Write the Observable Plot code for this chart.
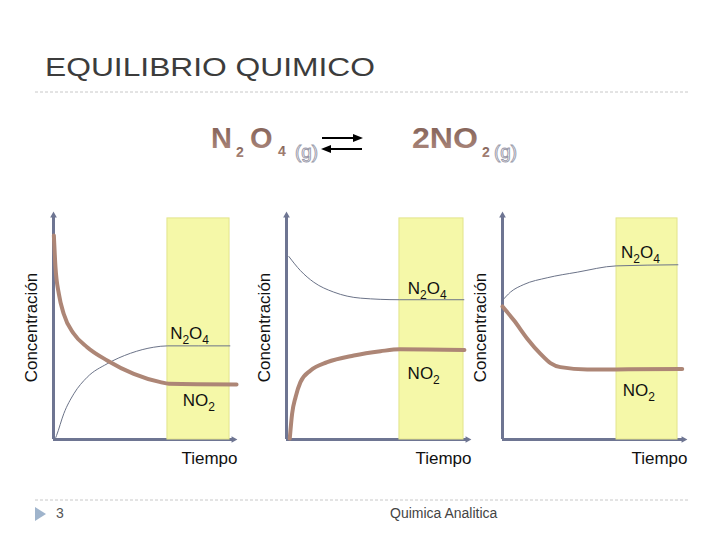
<!DOCTYPE html>
<html>
<head>
<meta charset="utf-8">
<script src="https://cdn.jsdelivr.net/npm/d3@7"></script>
<script src="https://cdn.jsdelivr.net/npm/@observablehq/plot@0.6"></script>
<style>
  html, body { margin: 0; padding: 0; background: #fff; }
  #page { position: relative; width: 720px; height: 540px; overflow: hidden; font-family: "Liberation Sans", Arial, sans-serif; }
  #page > svg, #page > .panel { position: absolute; }
  .panel svg { max-width: none !important; overflow: visible; }
</style>
</head>
<body>
<div id="page"></div>
<script>
// ---------- data ----------
const title = "EQUILIBRIO QUIMICO";
const footerLeft = "3";
const footerCenter = "Quimica Analitica";
const xLabel = "Tiempo";
const yLabel = "Concentración";

// Panel 1
const p1ThickX = [0.02, 0.11, 0.30, 0.57, 1.13, 1.87, 2.98, 4.46, 5.94, 6.41, 10.17];
const p1ThickY = [9.11, 7.69, 6.49, 5.60, 4.72, 4.12, 3.53, 2.93, 2.56, 2.49, 2.46];
const p1ThinX  = [0.08, 0.17, 0.57, 1.13, 1.87, 2.98, 4.28, 5.57, 6.35, 9.80];
const p1ThinY  = [0.00, 0.18, 1.15, 2.04, 2.78, 3.38, 3.85, 4.12, 4.18, 4.18];
const p1Band   = [6.33, 9.78];
const p1LabelText = ["N2O4", "NO2"];
const p1LabelX = [7.56, 8.07];
const p1LabelY = [4.72, 1.74];

// Panel 2
const p2ThickX = [0.18, 0.31, 0.50, 0.77, 1.33, 2.25, 3.72, 5.19, 6.26, 9.83];
const p2ThickY = [0.04, 1.15, 1.89, 2.56, 3.08, 3.45, 3.75, 3.94, 4.03, 4.00];
const p2ThinX  = [0.13, 0.77, 1.51, 2.61, 4.09, 6.26, 9.80];
const p2ThinY  = [8.17, 7.54, 7.02, 6.58, 6.31, 6.24, 6.24];
const p2Band   = [6.24, 9.78];
const p2LabelText = ["N2O4", "NO2"];
const p2LabelX = [7.77, 7.58];
const p2LabelY = [6.73, 2.93];

// Panel 3
const p3ThickX = [0.00, 0.64, 1.38, 2.10, 2.65, 3.20, 4.68, 6.28, 9.93];
const p3ThickY = [5.94, 5.31, 4.49, 3.82, 3.41, 3.23, 3.13, 3.13, 3.15];
const p3ThinX  = [0.00, 0.44, 1.18, 2.47, 4.13, 6.28, 9.69];
const p3ThinY  = [6.21, 6.58, 6.92, 7.22, 7.47, 7.75, 7.80];
const p3Band   = [6.30, 9.67];
const p3LabelText = ["N2O4", "NO2"];
const p3LabelX = [7.62, 7.53];
const p3LabelY = [8.36, 2.19];

const bandTop = 9.87;

// ---------- styles ----------
const AXIS = "#6e7592";
const THICK = "#ad8676";
const THIN = "#6b7388";
const BAND_FILL = "#f5f8a8";
const BAND_STROKE = "#e2e48c";
const FONT = "'Liberation Sans', Arial, sans-serif";

const page = d3.select("#page");

// ---------- decorations: title, equation, footer ----------
const deco = page.append("svg").attr("width", 720).attr("height", 540).style("left", "0px").style("top", "0px");
const defs = deco.append("defs");
const grad = defs.append("linearGradient").attr("id", "brown").attr("x1", 0).attr("y1", 0).attr("x2", 0).attr("y2", 1);
grad.append("stop").attr("offset", "0%").attr("stop-color", "#7d5c52");
grad.append("stop").attr("offset", "100%").attr("stop-color", "#b08c80");

deco.append("text").attr("x", 45).attr("y", 76).attr("font-family", FONT).attr("font-size", 25)
  .attr("fill", "#3c3c3c").attr("textLength", 330).attr("lengthAdjust", "spacingAndGlyphs").text(title);
deco.append("line").attr("x1", 35).attr("x2", 690).attr("y1", 92).attr("y2", 92)
  .attr("stroke", "#c8c8c8").attr("stroke-dasharray", "3,2");

function big(x, y, s, size, len) {
  const t = deco.append("text").attr("x", x).attr("y", y).attr("font-family", FONT).attr("font-weight", "bold")
    .attr("font-size", size).attr("fill", "url(#brown)").text(s);
  if (len) t.attr("textLength", len).attr("lengthAdjust", "spacingAndGlyphs");
}
function gas(x) {
  deco.append("text").attr("x", x).attr("y", 158).attr("font-family", FONT).attr("font-size", 18)
    .attr("fill", "#fff").attr("stroke", "#9a9aaa").attr("stroke-width", 0.9)
    .attr("textLength", 23).attr("lengthAdjust", "spacingAndGlyphs").text("(g)");
}
big(211, 148, "N", 29);
big(236, 157, "2", 14);
big(250, 148, "O", 29);
big(278, 156, "4", 14);
gas(295);
big(412, 148, "2NO", 29, 66);
big(482, 157, "2", 14);
gas(494);
// equilibrium arrows
deco.append("line").attr("x1", 322).attr("x2", 355).attr("y1", 138).attr("y2", 138).attr("stroke", "#000").attr("stroke-width", 2);
deco.append("path").attr("d", "M363,138 L353,134 L353,142 Z").attr("fill", "#000");
deco.append("line").attr("x1", 329).attr("x2", 362).attr("y1", 149).attr("y2", 149).attr("stroke", "#000").attr("stroke-width", 2);
deco.append("path").attr("d", "M321,149 L331,145 L331,153 Z").attr("fill", "#000");

// footer
deco.append("line").attr("x1", 35).attr("x2", 690).attr("y1", 500).attr("y2", 500)
  .attr("stroke", "#c8c8c8").attr("stroke-dasharray", "3,2");
deco.append("path").attr("d", "M35,507 L46,514 L35,521 Z").attr("fill", "#9fb4cc");
deco.append("text").attr("x", 56).attr("y", 518).attr("font-family", FONT).attr("font-size", 14).attr("fill", "#555").text(footerLeft);
deco.append("text").attr("x", 390).attr("y", 518).attr("font-family", FONT).attr("font-size", 14).attr("fill", "#444").text(footerCenter);

// ---------- panels ----------
function zip(xs, ys) { return xs.map((x, i) => ({x, y: ys[i]})); }

function panel(axisLeft, plotWidth, thickX, thickY, thinX, thinY, band, lText, lX, lY) {
  const mL = 32, mR = 14;
  const labels = lText.map((t, i) => ({t, x: lX[i], y: lY[i]}));
  const chart = Plot.plot({
    width: mL + plotWidth + mR,
    height: 280,
    marginLeft: mL, marginRight: mR, marginTop: 15, marginBottom: 41,
    x: {domain: [0, 10], axis: null},
    y: {domain: [0, 10], axis: null},
    style: {background: "transparent", fontFamily: FONT, fontSize: "17px", overflow: "visible", color: "#111"},
    marks: [
      Plot.ruleX([0], {y1: 0, y2: 10, stroke: AXIS, strokeWidth: 3}),
      Plot.ruleY([0], {x1: 0, x2: 10, stroke: AXIS, strokeWidth: 3}),
      Plot.dot([{x: 10, y: 0}], {x: "x", y: "y", symbol: "triangle", rotate: 90, r: 2.5, fill: AXIS, stroke: null}),
      Plot.dot([{x: 0, y: 10}], {x: "x", y: "y", symbol: "triangle", rotate: 0, r: 2.5, fill: AXIS, stroke: null}),
      Plot.rect([{x1: band[0], x2: band[1], y1: 0, y2: bandTop}], {x1: "x1", x2: "x2", y1: "y1", y2: "y2", fill: BAND_FILL, stroke: BAND_STROKE, strokeWidth: 1}),
      Plot.line(zip(thinX, thinY), {x: "x", y: "y", stroke: THIN, strokeWidth: 1, curve: "monotone-x"}),
      Plot.line(zip(thickX, thickY), {x: "x", y: "y", stroke: THICK, strokeWidth: 4, curve: "monotone-x"}),
      Plot.text(labels, {x: "x", y: "y", text: "t", fill: "#111", fontSize: 17, className: "chem"}),
      Plot.text([yLabel], {frameAnchor: "left", rotate: -90, dx: -22, textAnchor: "middle", lineAnchor: "middle", fill: "#111", fontSize: 17}),
      Plot.text([xLabel], {frameAnchor: "bottom-right", dx: 4, dy: 19, textAnchor: "end", lineAnchor: "middle", fill: "#111", fontSize: 17})
    ]
  });
  // subscripts for chemical formulas
  d3.select(chart).selectAll(".chem text").each(function() {
    const s = this.textContent;
    const el = d3.select(this);
    el.text(null);
    const parts = s.match(/[A-Za-z]+|\d+/g) || [];
    let sub = false;
    parts.forEach(p => {
      const isNum = /^\d+$/.test(p);
      const ts = el.append("tspan").text(p);
      if (isNum && !sub) { ts.attr("dy", 5).attr("font-size", 12); sub = true; }
      else if (isNum) { ts.attr("font-size", 12); }
      else if (sub) { ts.attr("dy", -5); sub = false; }
    });
  });
  const div = page.append("div").attr("class", "panel")
    .style("left", (axisLeft - mL) + "px").style("top", "200px");
  div.node().appendChild(chart);
}

panel(53, 180, p1ThickX, p1ThickY, p1ThinX, p1ThinY, p1Band, p1LabelText, p1LabelX, p1LabelY);
panel(286, 181, p2ThickX, p2ThickY, p2ThinX, p2ThinY, p2Band, p2LabelText, p2LabelX, p2LabelY);
panel(502, 181, p3ThickX, p3ThickY, p3ThinX, p3ThinY, p3Band, p3LabelText, p3LabelX, p3LabelY);
</script>
</body>
</html>
